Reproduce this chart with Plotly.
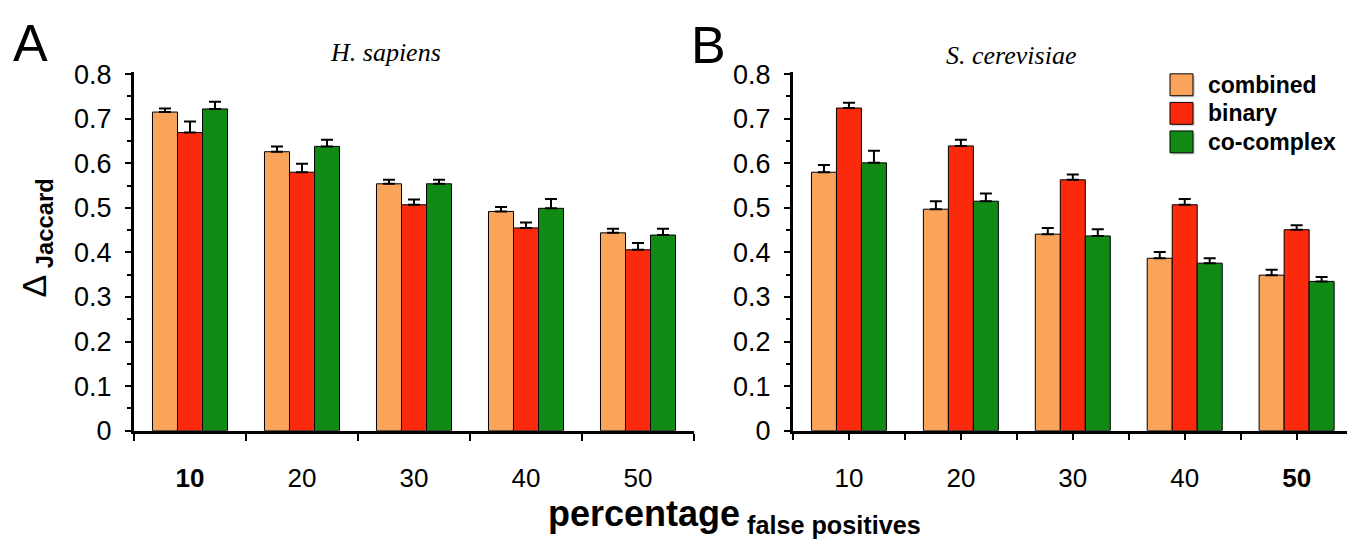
import plotly.graph_objects as go

W, H = 1350, 558

categories = ["10", "20", "30", "40", "50"]
series_names = ["combined", "binary", "co-complex"]
series_colors = ["#F9A45A", "#FC2A0C", "#108A14"]

# Panel A: H. sapiens
hs_combined = [0.715, 0.626, 0.554, 0.492, 0.444]
hs_combined_err = [0.008, 0.012, 0.009, 0.010, 0.009]
hs_binary = [0.669, 0.580, 0.507, 0.455, 0.406]
hs_binary_err = [0.025, 0.019, 0.012, 0.012, 0.015]
hs_cocomplex = [0.722, 0.638, 0.554, 0.499, 0.439]
hs_cocomplex_err = [0.016, 0.015, 0.009, 0.021, 0.014]

# Panel B: S. cerevisiae
sc_combined = [0.580, 0.497, 0.441, 0.387, 0.349]
sc_combined_err = [0.016, 0.018, 0.014, 0.014, 0.012]
sc_binary = [0.724, 0.639, 0.563, 0.507, 0.451]
sc_binary_err = [0.012, 0.014, 0.012, 0.013, 0.010]
sc_cocomplex = [0.601, 0.515, 0.437, 0.376, 0.335]
sc_cocomplex_err = [0.027, 0.017, 0.015, 0.011, 0.010]

y_ticks = [0, 0.1, 0.2, 0.3, 0.4, 0.5, 0.6, 0.7, 0.8]
y_ticktext = ["0", "0.1", "0.2", "0.3", "0.4", "0.5", "0.6", "0.7", "0.8"]

xpos = list(range(len(categories)))

def px(x):
    return x / W

def py(y):
    return 1 - y / H

SANS = "Liberation Sans, Arial, Helvetica, sans-serif"
SERIF = "Liberation Serif, Times New Roman, serif"

fig = go.Figure()

panels = [
    ("x", "y", [hs_combined, hs_binary, hs_cocomplex], [hs_combined_err, hs_binary_err, hs_cocomplex_err]),
    ("x2", "y2", [sc_combined, sc_binary, sc_cocomplex], [sc_combined_err, sc_binary_err, sc_cocomplex_err]),
]
for xa, ya, vals, errs in panels:
    for name, color, v, e in zip(series_names, series_colors, vals, errs):
        fig.add_trace(go.Bar(
            x=xpos, y=v, name=name, xaxis=xa, yaxis=ya,
            marker=dict(color=color, line=dict(color="black", width=1)),
            error_y=dict(type="data", symmetric=False, array=e,
                         arrayminus=[0] * len(e), color="black",
                         thickness=2, width=6),
            showlegend=False,
        ))

yaxis_common = dict(
    range=[0, 0.805], tickvals=y_ticks, ticktext=y_ticktext,
    ticks="outside", ticklen=6, tickwidth=2, tickcolor="black",
    showline=True, linewidth=3, linecolor="black",
    showgrid=False, zeroline=False,
    tickfont=dict(family=SANS, size=27, color="black"),
    ticklabelstandoff=8,
    minor=dict(dtick=0.05, ticks="outside", ticklen=4, tickwidth=2, tickcolor="black", showgrid=False),
    domain=[py(440), py(63)],
)

ticktext_a = ["<b>10</b>", "20", "30", "40", "50"]
ticktext_b = ["10", "20", "30", "40", "<b>50</b>"]

fig.update_layout(
    width=W, height=H,
    margin=dict(l=0, r=0, t=0, b=0),
    paper_bgcolor="white", plot_bgcolor="white",
    barmode="group", bargap=0.33, bargroupgap=0,
    xaxis=dict(
        domain=[px(134), px(694)], range=[-0.5, 4.5], anchor="y",
        tickvals=xpos, ticktext=ticktext_a,
        ticks="outside", ticklen=0, tickcolor="black",
        showline=True, linewidth=3, linecolor="black", showgrid=False, zeroline=False,
        tickfont=dict(family=SANS, size=26, color="black"),
        ticklabelstandoff=22,
        minor=dict(tick0=-0.5, dtick=1, ticks="outside", ticklen=7, tickwidth=2, tickcolor="black", showgrid=False),
    ),
    xaxis2=dict(
        domain=[px(793), px(1347)], range=[-0.5, 4.45], anchor="y2",
        tickvals=xpos, ticktext=ticktext_b,
        ticks="outside", ticklen=6, tickwidth=2, tickcolor="black",
        showline=True, linewidth=3, linecolor="black", showgrid=False, zeroline=False,
        tickfont=dict(family=SANS, size=26, color="black"),
        ticklabelstandoff=16,
        minor=dict(tick0=-0.5, dtick=1, ticks="outside", ticklen=6, tickwidth=2, tickcolor="black", showgrid=False),
    ),
    yaxis=dict(anchor="x", **yaxis_common),
    yaxis2=dict(anchor="x2", **yaxis_common),
)

annotations = [
    dict(text="A", x=px(30), y=py(33), font=dict(family=SANS, size=52, color="black")),
    dict(text="B", x=px(708), y=py(35), font=dict(family=SANS, size=52, color="black")),
    dict(text="<i>H. sapiens</i>", x=px(385), y=py(43), font=dict(family=SERIF, size=26, color="black")),
    dict(text="<i>S. cerevisiae</i>", x=px(1011), y=py(46), font=dict(family=SERIF, size=26, color="black")),
    dict(text="Δ<b><sub> Jaccard</sub></b>", x=px(36), y=py(238), textangle=-90,
         font=dict(family=SANS, size=34, color="black")),
    dict(text="<b>percentage</b><b><sub> false positives</sub></b>", x=px(734), y=py(530),
         font=dict(family=SANS, size=36, color="black")),
]
for a in annotations:
    a.update(xref="paper", yref="paper", showarrow=False, xanchor="center", yanchor="middle")

# legend (drawn as boxes + labels)
shapes = []
leg_x0, leg_y0, box, step = 1170, 65, 23, 30
for i, (name, color) in enumerate(zip(series_names, series_colors)):
    y0 = leg_y0 + i * step
    shapes.append(dict(type="rect", xref="paper", yref="paper",
                       x0=px(leg_x0 + 2), x1=px(leg_x0 + box + 2), y0=py(y0 + 2), y1=py(y0 + box + 2),
                       fillcolor="rgba(0,0,0,0.15)", line=dict(width=0), layer="above"))
    shapes.append(dict(type="rect", xref="paper", yref="paper",
                       x0=px(leg_x0), x1=px(leg_x0 + box), y0=py(y0), y1=py(y0 + box),
                       fillcolor=color, line=dict(color="black", width=1), layer="above"))
    annotations.append(dict(text="<b>%s</b>" % name, xref="paper", yref="paper",
                            x=px(1206), y=py(y0 + box / 2), xanchor="left", yanchor="middle",
                            showarrow=False, font=dict(family=SANS, size=23, color="black")))

fig.update_layout(annotations=annotations, shapes=shapes)

fig.write_html("out.html")
